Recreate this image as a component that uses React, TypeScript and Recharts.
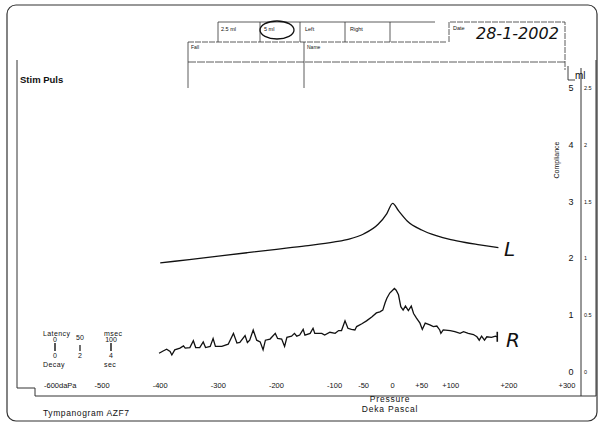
import React from "react";
import { LineChart, Line, XAxis, YAxis } from "recharts";

// pressure ticks (daPa) along the bottom
const pressureTicks = [-600, -500, -400, -300, -200, -100, -50, 0, 50, 100, 200, 300];
const pressureLabels = ["-600daPa", "-500", "-400", "-300", "-200", "-100", "-50", "0", "+50", "+100", "+200", "+300"];

// compliance ticks (ml); the inner 0-2.5 scale is read at half of each
const mlTicks = [0, 1, 2, 3, 4, 5];
const halfLabels = ["0", "0.5", "1", "1.5", "2", "2.5"];

// left ear
const leftPressure = [-400, -350, -300, -250, -200, -150, -100, -75, -50, -25, -10, 0, 10, 25, 50, 75, 100, 125, 150, 182];
const leftCompliance = [1.92, 1.98, 2.04, 2.1, 2.16, 2.22, 2.29, 2.34, 2.43, 2.6, 2.79, 2.97, 2.84, 2.66, 2.5, 2.4, 2.33, 2.28, 2.24, 2.19];

// right ear
const rightPressure = [
  -402, -395, -389, -383, -380, -375, -366, -360, -357, -349, -343, -339, -332, -326, -322, -314, -309, -305,
  -294, -283, -274, -268, -263, -254, -250, -246, -240, -234, -228, -223, -219, -211, -202, -198, -191, -186,
  -182, -174, -169, -165, -160, -154, -151, -142, -137, -134, -122, -117, -108, -99, -93, -88, -82, -77, -71,
  -65, -62, -53, -45, -36, -28, -22, -17, -13, -10, -5, 3, 6, 10, 14, 18, 22, 27, 32, 36, 41, 47, 51, 56, 64,
  70, 76, 81, 83, 87, 99, 107, 116, 122, 130, 139, 145, 149, 153, 158, 162, 170, 177, 180,
];
const rightCompliance = [
  0.33, 0.37, 0.4, 0.36, 0.3, 0.39, 0.42, 0.46, 0.42, 0.43, 0.55, 0.43, 0.43, 0.53, 0.43, 0.45, 0.59, 0.45,
  0.45, 0.49, 0.68, 0.51, 0.52, 0.64, 0.52, 0.56, 0.74, 0.56, 0.53, 0.39, 0.56, 0.58, 0.68, 0.59, 0.58, 0.45,
  0.61, 0.63, 0.68, 0.63, 0.65, 0.75, 0.65, 0.68, 0.77, 0.68, 0.68, 0.65, 0.7, 0.68, 0.73, 0.73, 0.9, 0.77, 0.75,
  0.74, 0.8, 0.85, 0.9, 0.97, 1.04, 1.06, 1.09, 1.22, 1.3, 1.39, 1.47, 1.44, 1.36, 1.15, 1.09, 1.16, 1.08, 1.16,
  1.03, 0.95, 0.86, 0.75, 0.86, 0.83, 0.8, 0.81, 0.74, 0.68, 0.74, 0.73, 0.71, 0.68, 0.71, 0.68, 0.66, 0.62,
  0.56, 0.63, 0.56, 0.62, 0.61, 0.63, 0.62,
];

const leftData = leftPressure.map((p, i) => ({ p, v: leftCompliance[i] }));
const rightData = rightPressure.map((p, i) => ({ p, v: rightCompliance[i] }));

const font = "'Liberation Sans', Arial, sans-serif";
const ink = "#111";
const frame = "#333";

function PressureTick({ x, y, payload }: any) {
  const i = pressureTicks.indexOf(payload.value);
  return (
    <text x={x} y={y + 14} textAnchor={i === 0 ? "start" : "middle"} fontSize={7.5} fontFamily={font} fill={ink}>
      {pressureLabels[i]}
    </text>
  );
}

// draws the ml label and the half-scale label beside it
function MlTick({ x, y, payload }: any) {
  const i = mlTicks.indexOf(payload.value);
  return (
    <g>
      <text x={x + 2} y={y + 3} textAnchor="middle" fontSize={9} fontFamily={font} fill={ink}>
        {payload.value}
      </text>
      <text x={x + 15} y={y + 2} textAnchor="start" fontSize={5.5} fontFamily={font} fill={ink}>
        {halfLabels[i]}
      </text>
    </g>
  );
}

function EndMark({ cx, cy, index }: any) {
  if (index !== rightData.length - 1) return <g key={index} />;
  return <line key={index} x1={cx} y1={cy - 5} x2={cx} y2={cy + 5} stroke={ink} strokeWidth={1.6} />;
}

function Decorations() {
  const t = { fontFamily: font, fill: ink } as const;
  return (
    <svg width={599} height={427} style={{ position: "absolute", left: 0, top: 0, pointerEvents: "none" }}>
      {/* outer border */}
      <rect x={7} y={5} width={590} height={416} rx={9} fill="none" stroke={frame} strokeWidth={1.2} />
      {/* inner frame */}
      <polyline points="17,60 17,388 35,388 35,396 596,396" fill="none" stroke={frame} strokeWidth={1} />
      <line x1={581} y1={68} x2={581} y2={396} stroke={frame} strokeWidth={1} />
      <line x1={596} y1={60} x2={596} y2={396} stroke={frame} strokeWidth={1} />

      {/* header boxes */}
      <polyline points="218,42 218,22 435,22" fill="none" stroke={frame} strokeWidth={0.8} />
      <line x1={260} y1={22} x2={260} y2={42} stroke={frame} strokeWidth={0.8} />
      <line x1={300} y1={22} x2={300} y2={42} stroke={frame} strokeWidth={0.8} />
      <line x1={345} y1={22} x2={345} y2={42} stroke={frame} strokeWidth={0.8} />
      <line x1={390} y1={22} x2={390} y2={42} stroke={frame} strokeWidth={0.8} />
      <line x1={188} y1={42} x2={447} y2={42} stroke={frame} strokeWidth={0.8} strokeDasharray="6 1" />
      <polyline points="449,42 449,22 565,22 565,70" fill="none" stroke={frame} strokeWidth={0.8} strokeDasharray="6 1" />
      <line x1={188} y1={42} x2={188} y2={88} stroke={frame} strokeWidth={0.8} />
      <line x1={304} y1={42} x2={304} y2={88} stroke={frame} strokeWidth={0.8} />
      <line x1={188} y1={62} x2={565} y2={62} stroke={frame} strokeWidth={0.8} strokeDasharray="8 1" />
      <text x={221} y={31} fontSize={5.5} {...t}>2.5 ml</text>
      <text x={264} y={31} fontSize={5.5} {...t}>5 ml</text>
      <ellipse cx={277} cy={30} rx={17} ry={9} fill="none" stroke={ink} strokeWidth={1.3} />
      <text x={305} y={31} fontSize={5.5} {...t}>Left</text>
      <text x={350} y={31} fontSize={5.5} {...t}>Right</text>
      <text x={453} y={30} fontSize={5.5} {...t}>Date</text>
      <text x={476} y={39} fontSize={16} fontStyle="italic" fontFamily="'DejaVu Sans', sans-serif" fill={ink}>
        28-1-2002
      </text>
      <text x={191} y={49} fontSize={5} {...t}>Fall</text>
      <text x={307} y={49} fontSize={5} {...t}>Name</text>

      {/* labels */}
      <text x={20} y={83} fontSize={9.5} fontWeight="bold" {...t}>Stim Puls</text>
      <polyline points="568,66 568,80 575,80" fill="none" stroke={ink} strokeWidth={0.8} />
      <text x={575} y={79} fontSize={10} {...t}>ml</text>
      <text x={0} y={0} fontSize={7} textAnchor="middle" transform="translate(559,160) rotate(-90)" {...t}>
        Compliance
      </text>
      <text x={390} y={402} fontSize={8.5} textAnchor="middle" letterSpacing={0.8} {...t}>Pressure</text>
      <text x={390} y={412} fontSize={8.5} textAnchor="middle" letterSpacing={0.8} {...t}>Deka Pascal</text>
      <text x={43} y={416} fontSize={8.5} letterSpacing={0.6} {...t}>Tympanogram  AZF7</text>

      {/* latency / decay block */}
      <text x={43} y={336} fontSize={7} letterSpacing={0.4} {...t}>Latency</text>
      <text x={104} y={336} fontSize={7} letterSpacing={0.4} {...t}>msec</text>
      <text x={55} y={342} fontSize={7} textAnchor="middle" {...t}>0</text>
      <text x={80} y={340} fontSize={7} textAnchor="middle" {...t}>50</text>
      <text x={111} y={342} fontSize={7} textAnchor="middle" {...t}>100</text>
      <line x1={55} y1={343} x2={55} y2={351} stroke={ink} strokeWidth={1.4} />
      <line x1={80} y1={345} x2={80} y2={351} stroke={ink} strokeWidth={1.2} />
      <line x1={111} y1={343} x2={111} y2={351} stroke={ink} strokeWidth={1.4} />
      <text x={55} y={358} fontSize={7} textAnchor="middle" {...t}>0</text>
      <text x={80} y={358} fontSize={7} textAnchor="middle" {...t}>2</text>
      <text x={111} y={358} fontSize={7} textAnchor="middle" {...t}>4</text>
      <text x={43} y={367} fontSize={7} letterSpacing={0.4} {...t}>Decay</text>
      <text x={104} y={367} fontSize={7} letterSpacing={0.4} {...t}>sec</text>

      {/* handwritten ear markers */}
      <text x={504} y={256} fontSize={20} fontStyle="italic" fontFamily="'DejaVu Sans', sans-serif" fill={ink}>L</text>
      <text x={506} y={347} fontSize={20} fontStyle="italic" fontFamily="'DejaVu Sans', sans-serif" fill={ink}>R</text>
    </svg>
  );
}

export default function App() {
  return (
    <div style={{ position: "absolute", left: 0, top: 0, width: 599, height: 427, background: "#fff" }}>
      <LineChart width={599} height={427} margin={{ top: 88, right: 0, bottom: 35, left: 44 }}>
        <XAxis
          type="number"
          dataKey="p"
          domain={[-600, 300]}
          ticks={pressureTicks}
          interval={0}
          height={20}
          axisLine={false}
          tickLine={false}
          tickSize={0}
          tick={<PressureTick />}
          allowDataOverflow
        />
        <YAxis
          yAxisId="ml"
          orientation="right"
          domain={[0, 5]}
          ticks={mlTicks}
          interval={0}
          width={32}
          axisLine={false}
          tickLine={false}
          tickSize={0}
          tick={<MlTick />}
        />
        <Line
          yAxisId="ml"
          data={leftData}
          dataKey="v"
          type="monotone"
          stroke={ink}
          strokeWidth={1.3}
          dot={false}
          isAnimationActive={false}
        />
        <Line
          yAxisId="ml"
          data={rightData}
          dataKey="v"
          type="linear"
          stroke={ink}
          strokeWidth={1.3}
          dot={<EndMark />}
          isAnimationActive={false}
        />
      </LineChart>
      <Decorations />
    </div>
  );
}
